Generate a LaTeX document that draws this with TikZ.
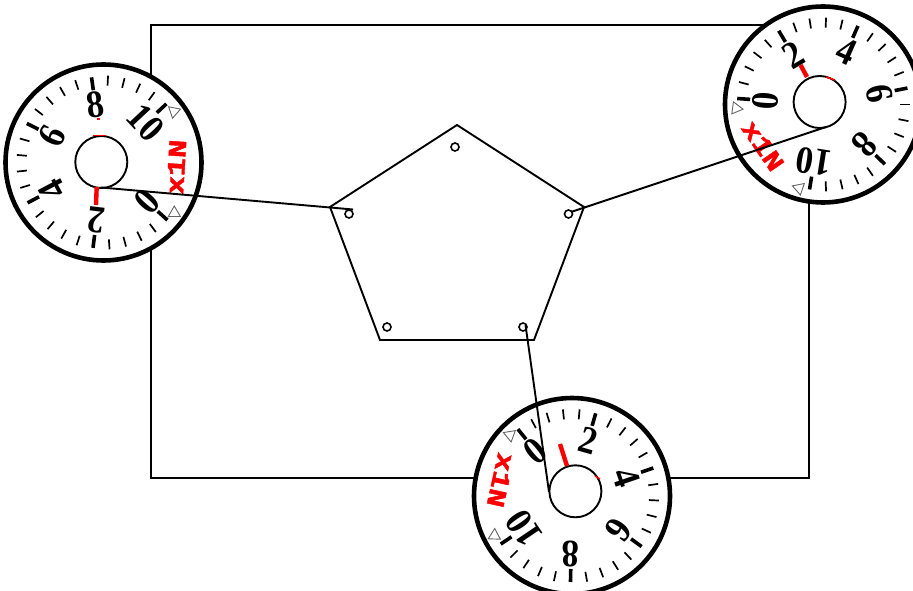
\documentclass[tikz,border=0pt]{standalone}
\usepackage{fontspec}
\setmainfont{Liberation Serif}
\newfontfamily\labfont[BoldFeatures={FakeBold=1.6}]{Liberation Mono}
\definecolor{redmark}{RGB}{250,0,0}
\tikzset{
  x=0.75pt,y=-0.75pt,
  lin/.style={line width=1.9*0.75pt,black},
  ring/.style={line width=4.6*0.75pt,black,fill=white},
  majortick/.style={line width=3.6*0.75pt,black},
  minortick/.style={line width=1.7*0.75pt,black},
  needle/.style={line width=4.4*0.75pt,redmark},
  speck/.style={line width=1.5*0.75pt,redmark},
  digit/.style={font=\fontsize{29}{29}\selectfont\bfseries,inner sep=0pt,black,xscale=0.9},
  lab/.style={font=\fontsize{19}{19}\labfont\bfseries,inner sep=0pt,redmark,xscale=1.2},
  tri/.style={line width=0.9*0.75pt,black!60,fill=white},
  hole/.style={circle,draw=black,line width=1.6*0.75pt,fill=white,minimum size=6pt,inner sep=0pt},
  hubdisc/.style={circle,draw=black,line width=1.9*0.75pt,fill=white,minimum size=39pt,inner sep=0pt},
}
% #1 centre, #2 angle of the 0 mark
\newcommand{\dialface}[2]{%
  \begin{scope}[shift={#1},yscale=-1]
    \draw[ring] (0,0) circle[radius=98];
    \foreach \i in {0,...,25}{
      \pgfmathsetmacro{\a}{#2-11*\i}
      \pgfmathparse{int(mod(\i,5))}
      \ifnum\pgfmathresult=0
        \draw[majortick] (\a:73) -- (\a:86);
      \else
        \draw[minortick] (\a:77) -- (\a:87);
      \fi
    }
    \foreach \i/\t in {0/0,1/2,2/4,3/6,4/8,5/10}{
      \pgfmathsetmacro{\a}{#2-55*\i}
      \pgfmathsetmacro{\r}{\a-90}
      \node[rotate=\r,digit] at (\a:58) {\t};
    }
    \pgfmathsetmacro{\a}{#2+38.5}
    \pgfmathsetmacro{\r}{\a+90}
    \node[rotate=\r,lab] at (\a:73) {x1N};
    \foreach \d/\s in {6.5/-55,78/65}{
      \pgfmathsetmacro{\a}{#2+\d}
      \pgfmathsetmacro{\b}{\a+\s}
      \draw[tri,shift={(\a:87)},rotate=\b] (0:7) -- (120:7) -- (240:7) -- cycle;
    }
  \end{scope}}
\begin{document}
\begin{tikzpicture}
\useasboundingbox (0,0) rectangle (913,591);
\draw[lin] (151,25) rectangle (809,478);
\coordinate (p1) at (457,125);
\coordinate (p2) at (584,207);
\coordinate (p3) at (534,340);
\coordinate (p4) at (380,340);
\coordinate (p5) at (330,207);
\draw[lin] (p1) -- (p2) -- (p3) -- (p4) -- (p5) -- cycle;
\node[hole] (h1) at (455,147) {};
\node[hole] (h2) at (568.5,214) {};
\node[hole] (h3) at (523,327) {};
\node[hole] (h4) at (387,327) {};
\node[hole] (h5) at (349,214) {};
\dialface{(103.5,162.5)}{-42}
\dialface{(823,104.5)}{176}
\dialface{(572,496)}{129}
\node[hubdisc] (hubA) at (101.3,162) {};
\node[hubdisc] (hubB) at (819.6,102) {};
\node[hubdisc] (hubC) at (575.4,491.3) {};
\draw[needle] (96.7,187) -- (96,205);
\draw[needle] (800.5,65) -- (807,77);
\draw[needle] (567,466) -- (560,444);
\draw[speck] (93,135.5) -- (106,135.5);
\draw[speck] (97,119) -- (100,119);
\draw[speck] (826,77) -- (835,80);
\draw[speck] (595,476) -- (600,479);
\coordinate (tA) at (101,187.5);
\coordinate (eA) at (353,209.5);
\coordinate (tB) at (826,127);
\coordinate (eB) at (571,212);
\coordinate (tC) at (549,492);
\coordinate (eC) at (525.5,325);
\draw[lin] (tA) -- (eA);
\draw[lin] (tB) -- (eB);
\draw[lin] (tC) -- (eC);
\end{tikzpicture}
\end{document}
